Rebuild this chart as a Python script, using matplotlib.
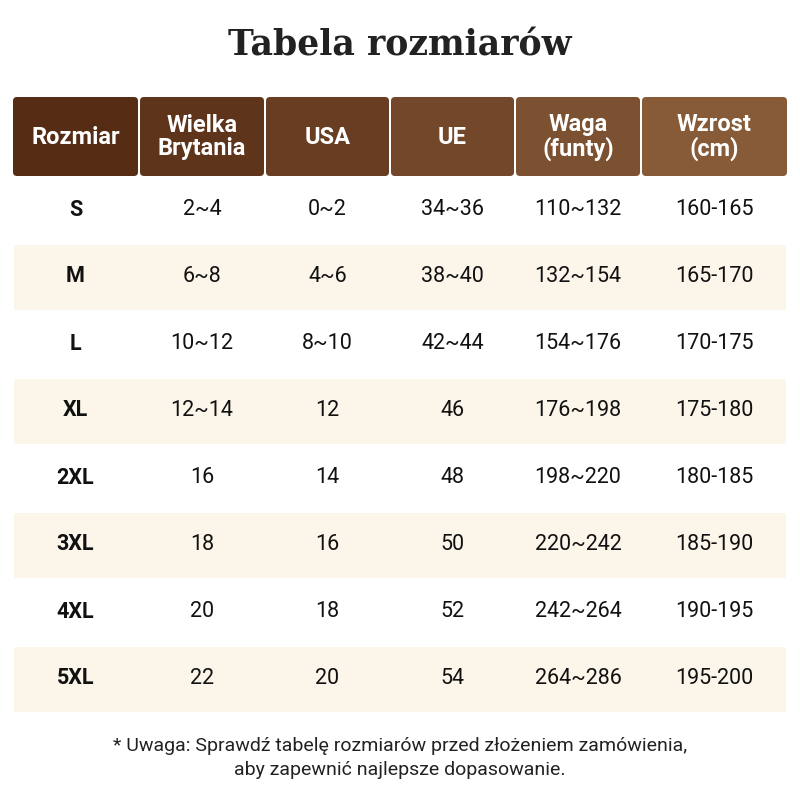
import matplotlib
matplotlib.use("Agg")
import matplotlib.pyplot as plt
from matplotlib.patches import FancyBboxPatch

plt.rcParams["font.family"] = ["Roboto", "DejaVu Sans"]

TITLE = "Tabela rozmiarów"
HEADERS = ["Rozmiar", "Wielka\nBrytania", "USA", "UE", "Waga\n(funty)", "Wzrost\n(cm)"]
SIZES = ["S", "M", "L", "XL", "2XL", "3XL", "4XL", "5XL"]
UK = ["2~4", "6~8", "10~12", "12~14", "16", "18", "20", "22"]
USA = ["0~2", "4~6", "8~10", "12", "14", "16", "18", "20"]
EU = ["34~36", "38~40", "42~44", "46", "48", "50", "52", "54"]
WAGA = ["110~132", "132~154", "154~176", "176~198", "198~220", "220~242", "242~264", "264~286"]
WZROST = ["160-165", "165-170", "170-175", "175-180", "180-185", "185-190", "190-195", "195-200"]
NOTE = "* Uwaga: Sprawdź tabelę rozmiarów przed złożeniem zamówienia,\naby zapewnić najlepsze dopasowanie."

COLS = [SIZES, UK, USA, EU, WAGA, WZROST]
col_edges = [12, 139, 265, 390, 515, 641, 788]
hdr_colors = ["#562c14", "#5e341b", "#683d22", "#72472a", "#7c5131", "#875b38"]

fig = plt.figure(figsize=(8, 8), dpi=100)
ax = fig.add_axes([0, 0, 1, 1])
ax.set_xlim(0, 800); ax.set_ylim(800, 0); ax.axis("off")

ax.text(400, 45, TITLE, ha="center", va="center", fontsize=25, fontweight="bold",
        family="DejaVu Serif", color="#222222")

# naglowek
for i, h in enumerate(HEADERS):
    x0, x1 = col_edges[i] + 1, col_edges[i + 1] - 1
    ax.add_patch(FancyBboxPatch((x0 + 4, 101), x1 - x0 - 8, 71,
                                boxstyle="round,pad=4", fc=hdr_colors[i], ec="none"))
    ax.text((x0 + x1) / 2, 137, h, ha="center", va="center", fontsize=17,
            fontweight="bold", color="white", linespacing=1.05)

row_h = 67
y_start = 176
for r in range(len(SIZES)):
    y0 = y_start + r * row_h
    yc = y0 + row_h / 2
    if r % 2 == 1:
        ax.add_patch(FancyBboxPatch((16, y0 + 4), 768, row_h - 6,
                                    boxstyle="round,pad=2", fc="#fbf5ea", ec="none"))
    for c, col in enumerate(COLS):
        xc = (col_edges[c] + col_edges[c + 1]) / 2
        ax.text(xc, yc, col[r], ha="center", va="center", fontsize=15.5,
                fontweight="bold" if c == 0 else "normal", color="#111111")

ax.text(400, 758, NOTE, ha="center", va="center", fontsize=14, color="#222222",
        linespacing=1.45)

fig.savefig("out.png", dpi=100, facecolor="white")
